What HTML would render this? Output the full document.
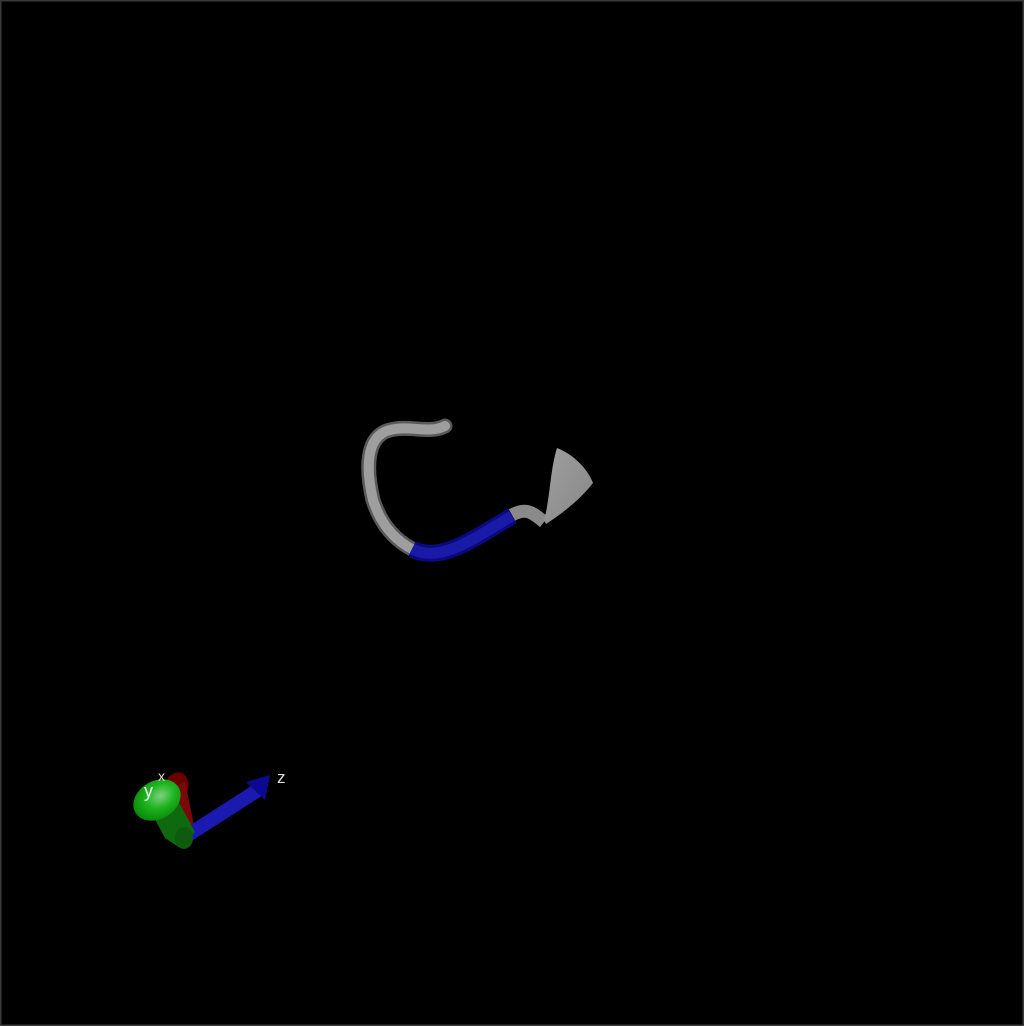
<!DOCTYPE html>
<html><head><meta charset="utf-8"><style>
html,body{margin:0;padding:0;background:#000;}
svg{display:block;}
</style></head><body>
<svg width="1024" height="1026" viewBox="0 0 1024 1026" xmlns="http://www.w3.org/2000/svg">
<defs>
<linearGradient id="cone" x1="0" y1="0" x2="1" y2="1">
<stop offset="0" stop-color="#a0a0a0"/><stop offset="1" stop-color="#868686"/>
</linearGradient>
<radialGradient id="gcap" cx="0.6" cy="0.45" r="0.6">
<stop offset="0" stop-color="#7fd07f"/><stop offset="0.5" stop-color="#1fb51f"/><stop offset="1" stop-color="#0a8a0a"/>
</radialGradient>
</defs>
<rect x="0" y="0" width="1024" height="1026" fill="#000"/>
<rect x="0.5" y="0.5" width="1023" height="1025" fill="none" stroke="#3a3a3a" stroke-width="2"/>
<g fill="none" stroke-linecap="round">
<path d="M445,426 C430,434 410,425 390,430 C365,436 366,470 373,500 C381,525 395,540 412,549" stroke="#5a5a5a" stroke-width="15"/>
<path d="M445,426 C430,434 410,425 390,430 C365,436 366,470 373,500 C381,525 395,540 412,549" stroke="#9e9e9e" stroke-width="10"/>
<path d="M412,549 C440,563 470,541 512,516" stroke="#0a0a80" stroke-width="17" stroke-linecap="butt"/>
<path d="M412,549 C440,563 470,541 512,516" stroke="#1a1aa8" stroke-width="11" stroke-linecap="butt"/>
<path d="M512,515 C528,506 535,515 544,522" stroke="#8a8a8a" stroke-width="13" stroke-linecap="butt"/>
</g>
<path d="M544,520 C550,500 550,470 557,448 C575,455 588,470 593,483 C580,500 560,515 546,524 Z" fill="url(#cone)"/>
<g>
<ellipse cx="176" cy="788" rx="12" ry="16" fill="#6a0000" transform="rotate(20 176 788)"/>
<polygon points="168,790 185,782 195,830 182,838" fill="#7a0a0a"/>
<line x1="188" y1="835" x2="258" y2="790" stroke="#1a1ab0" stroke-width="14"/>
<polygon points="246,782 270,775 265,800" fill="#0a0a90"/>
<polygon points="150,810 172,790 195,832 180,848 165,838" fill="#0f6a0f"/>
<ellipse cx="184" cy="838" rx="9" ry="11" fill="#0f5a0f"/>
<ellipse cx="157" cy="800" rx="25" ry="19" fill="url(#gcap)" transform="rotate(-30 157 800)"/>
<text x="158" y="781" fill="#ddd" font-family="Liberation Sans, sans-serif" font-size="14">x</text>
<text x="144" y="797" fill="#eee" font-family="Liberation Sans, sans-serif" font-size="18">y</text>
<text x="277" y="783" fill="#ddd" font-family="Liberation Sans, sans-serif" font-size="17">z</text>
</g>
</svg>
</body></html>
